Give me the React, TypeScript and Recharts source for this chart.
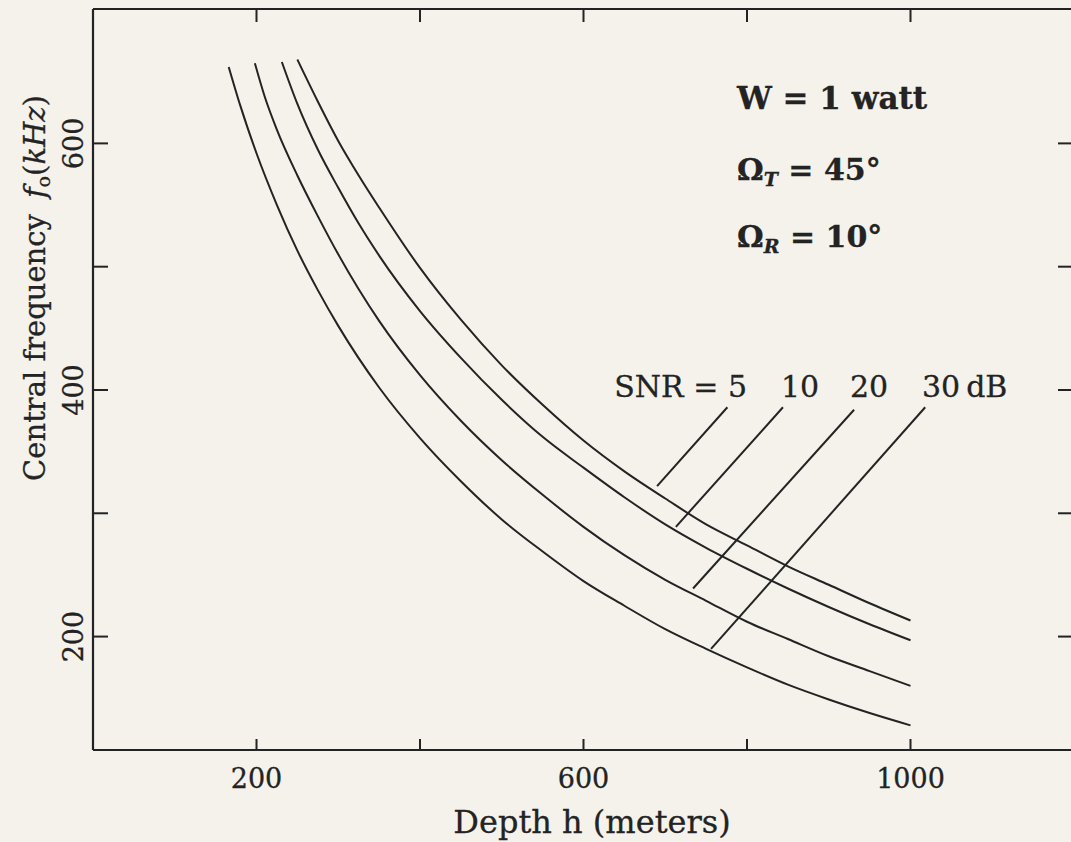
import React from 'react';
import { LineChart, Line, XAxis, YAxis, ReferenceLine } from 'recharts';

// ---- axis ticks ----
const depthTicks = [200, 400, 600, 800, 1000, 1200];
const depthTickLabels = [200, 600, 1000];
const freqTicks = [200, 300, 400, 500, 600];
const freqTickLabels = [200, 400, 600];

// ---- curves: depth h (m) -> central frequency f (kHz) ----
const snr5 = [
  { h: 250, f: 668 }, { h: 275, f: 634 }, { h: 300, f: 602 }, { h: 325, f: 574 },
  { h: 350, f: 548 }, { h: 400, f: 499 }, { h: 450, f: 457 }, { h: 500, f: 420 },
  { h: 550, f: 388 }, { h: 600, f: 359 }, { h: 650, f: 334 }, { h: 700, f: 312 },
  { h: 750, f: 291 }, { h: 800, f: 274 }, { h: 850, f: 257 }, { h: 900, f: 242 },
  { h: 950, f: 227 }, { h: 1000, f: 213 },
];
const snr10 = [
  { h: 231, f: 666 }, { h: 250, f: 632 }, { h: 275, f: 595 }, { h: 300, f: 564 },
  { h: 325, f: 535 }, { h: 350, f: 509 }, { h: 400, f: 464 }, { h: 450, f: 426 },
  { h: 500, f: 392 }, { h: 550, f: 362 }, { h: 600, f: 337 }, { h: 650, f: 313 },
  { h: 700, f: 291 }, { h: 750, f: 272 }, { h: 800, f: 255 }, { h: 850, f: 239 },
  { h: 900, f: 224 }, { h: 950, f: 210 }, { h: 1000, f: 197 },
];
const snr20 = [
  { h: 198, f: 665 }, { h: 210, f: 638 }, { h: 225, f: 611 }, { h: 250, f: 574 },
  { h: 275, f: 541 }, { h: 300, f: 510 }, { h: 350, f: 456 }, { h: 400, f: 412 },
  { h: 450, f: 375 }, { h: 500, f: 343 }, { h: 550, f: 315 }, { h: 600, f: 289 },
  { h: 650, f: 266 }, { h: 700, f: 246 }, { h: 750, f: 229 }, { h: 800, f: 212 },
  { h: 850, f: 198 }, { h: 900, f: 184 }, { h: 950, f: 172 }, { h: 1000, f: 160 },
];
const snr30 = [
  { h: 166, f: 662 }, { h: 180, f: 631 }, { h: 200, f: 592 }, { h: 225, f: 550 },
  { h: 250, f: 513 }, { h: 275, f: 481 }, { h: 300, f: 452 }, { h: 350, f: 402 },
  { h: 400, f: 361 }, { h: 450, f: 326 }, { h: 500, f: 295 }, { h: 550, f: 269 },
  { h: 600, f: 245 }, { h: 650, f: 225 }, { h: 700, f: 206 }, { h: 750, f: 190 },
  { h: 800, f: 175 }, { h: 850, f: 161 }, { h: 900, f: 149 }, { h: 950, f: 138 },
  { h: 1000, f: 128 },
];
const curves = [snr5, snr10, snr20, snr30];

// ---- leader lines from SNR labels to curves (data coords) ----
const snrLeaders = [
  { snr: '5', from: { h: 776, f: 386 }, to: { h: 690, f: 322 } },
  { snr: '10', from: { h: 844, f: 386 }, to: { h: 713, f: 289 } },
  { snr: '20', from: { h: 931, f: 384 }, to: { h: 734, f: 239 } },
  { snr: '30', from: { h: 1018, f: 386 }, to: { h: 756, f: 190 } },
];

// ---- text ----
const xTitle = 'Depth h (meters)';
const yTitleMain = 'Central frequency';
const powerText = 'W = 1 watt';
const omegaT = { sym: 'Ω', sub: 'T', value: ' = 45°' };
const omegaR = { sym: 'Ω', sub: 'R', value: ' = 10°' };
const snrText = ['SNR = 5', '10', '20', '30\u2009dB'];

const INK = '#232323';
const BG = '#f4f2eb';
const FONT = '"DejaVu Serif", serif';

function BottomTick(props: any) {
  const { x, y, payload } = props;
  return (
    <g>
      <line x1={x} y1={y} x2={x} y2={y - 11} stroke={INK} strokeWidth={2} />
      {depthTickLabels.includes(payload.value) && (
        <text
          x={x}
          y={y + 38}
          textAnchor="middle"
          fontFamily={FONT}
          fontSize={27}
          fill={INK}
          stroke={INK}
          strokeWidth={0.3}
        >
          {payload.value}
        </text>
      )}
    </g>
  );
}

function TopTick(props: any) {
  const { x, y } = props;
  return <line x1={x} y1={y} x2={x} y2={y + 13} stroke={INK} strokeWidth={2} />;
}

function LeftTick(props: any) {
  const { x, y, payload } = props;
  const lx = x - 10;
  return (
    <g>
      <line x1={x} y1={y} x2={x + 15} y2={y} stroke={INK} strokeWidth={2} />
      {freqTickLabels.includes(payload.value) && (
        <text
          x={lx}
          y={y}
          textAnchor="middle"
          transform={`rotate(-90, ${lx}, ${y})`}
          fontFamily={FONT}
          fontSize={27}
          fill={INK}
          stroke={INK}
          strokeWidth={0.3}
        >
          {payload.value}
        </text>
      )}
    </g>
  );
}

function RightTick(props: any) {
  const { x, y } = props;
  return <line x1={x} y1={y} x2={x - 16} y2={y} stroke={INK} strokeWidth={2} />;
}

export default function App() {
  return (
    <div
      style={{
        position: 'absolute',
        left: 0,
        top: 0,
        width: 1071,
        height: 842,
        overflow: 'hidden',
        background: BG,
      }}
    >
      <LineChart width={1100} height={842} margin={{ top: 0, right: 0, bottom: 0, left: 0 }}>
        <XAxis
          xAxisId="bottom"
          dataKey="h"
          type="number"
          domain={[0, 1200]}
          allowDataOverflow
          ticks={depthTicks}
          interval={0}
          height={92}
          tickSize={0}
          tickMargin={0}
          tickLine={false}
          axisLine={{ stroke: INK, strokeWidth: 2.2 }}
          tick={<BottomTick />}
        />
        <XAxis
          xAxisId="top"
          orientation="top"
          dataKey="h"
          type="number"
          domain={[0, 1200]}
          allowDataOverflow
          ticks={depthTicks}
          interval={0}
          height={9}
          tickSize={0}
          tickMargin={0}
          tickLine={false}
          axisLine={{ stroke: INK, strokeWidth: 2.2 }}
          tick={<TopTick />}
        />
        <YAxis
          yAxisId="left"
          type="number"
          domain={[108, 709]}
          allowDataOverflow
          ticks={freqTicks}
          interval={0}
          width={93}
          tickSize={0}
          tickMargin={0}
          tickLine={false}
          axisLine={{ stroke: INK, strokeWidth: 2.2 }}
          tick={<LeftTick />}
        />
        <YAxis
          yAxisId="right"
          orientation="right"
          type="number"
          domain={[108, 709]}
          allowDataOverflow
          ticks={freqTicks}
          interval={0}
          width={26}
          tickSize={0}
          tickMargin={0}
          tickLine={false}
          axisLine={{ stroke: INK, strokeWidth: 2.2 }}
          tick={<RightTick />}
        />
        {curves.map((c, i) => (
          <Line
            key={i}
            xAxisId="bottom"
            yAxisId="left"
            data={c}
            dataKey="f"
            type="monotone"
            stroke={INK}
            strokeWidth={2}
            dot={false}
            activeDot={false}
            isAnimationActive={false}
          />
        ))}
        {snrLeaders.map((l) => (
          <ReferenceLine
            key={l.snr}
            xAxisId="bottom"
            yAxisId="left"
            segment={[
              { x: l.from.h, y: l.from.f },
              { x: l.to.h, y: l.to.f },
            ]}
            stroke={INK}
            strokeWidth={2}
            ifOverflow="visible"
          />
        ))}
      </LineChart>
      <svg
        width={1071}
        height={842}
        style={{ position: 'absolute', left: 0, top: 0, pointerEvents: 'none' }}
        fontFamily={FONT}
        fill={INK}
        stroke={INK}
        strokeWidth={0.3}
      >
        <text x={592} y={833} textAnchor="middle" fontSize={32}>
          {xTitle}
        </text>
        <text x={45} y={288} textAnchor="middle" fontSize={29} transform="rotate(-90, 45, 288)">
          {yTitleMain}
          <tspan dx={16} fontStyle="italic">f</tspan>
          <tspan fontSize={19} dy={5}>o</tspan>
          <tspan dy={-5}>(</tspan>
          <tspan fontStyle="italic">kHz</tspan>
          <tspan>)</tspan>
        </text>
        <text x={737} y={109} fontSize={31} fontWeight="bold">
          {powerText}
        </text>
        <text x={737} y={180} fontSize={30} fontWeight="bold">
          {omegaT.sym}
          <tspan fontSize={19} fontStyle="italic" dy={6}>{omegaT.sub}</tspan>
          <tspan dy={-6}>{omegaT.value}</tspan>
        </text>
        <text x={737} y={247} fontSize={30} fontWeight="bold">
          {omegaR.sym}
          <tspan fontSize={19} fontStyle="italic" dy={6}>{omegaR.sub}</tspan>
          <tspan dy={-6}>{omegaR.value}</tspan>
        </text>
        <text x={747} y={397} textAnchor="end" fontSize={30}>{snrText[0]}</text>
        <text x={800} y={397} textAnchor="middle" fontSize={30}>{snrText[1]}</text>
        <text x={869} y={397} textAnchor="middle" fontSize={30}>{snrText[2]}</text>
        <text x={922} y={397} textAnchor="start" fontSize={30}>{snrText[3]}</text>
      </svg>
    </div>
  );
}
